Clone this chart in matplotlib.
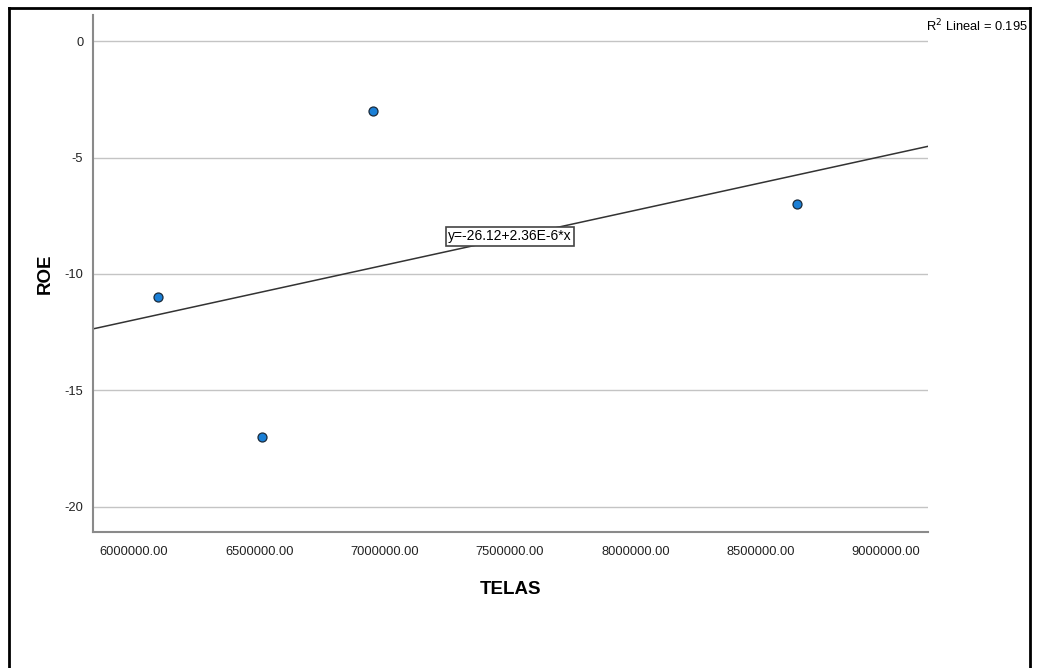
import numpy as np
import matplotlib
matplotlib.use("Agg")
import matplotlib.pyplot as plt
from matplotlib.lines import Line2D

plt.rcParams['font.family'] = ['Liberation Sans', 'DejaVu Sans']

# data
telas = [6096000, 6511000, 6954000, 8645000]
roe = [-11, -17, -3, -7]
x_ticks = [6000000, 6500000, 7000000, 7500000, 8000000, 8500000, 9000000]
y_ticks = [0, -5, -10, -15, -20]

fig = plt.figure(figsize=(10.42, 6.68), dpi=100)
ax = fig.add_axes([0.0893, 0.204, 0.8013, 0.7735])

xlim = (5837000, 9167500)
ylim = (-21.07, 1.12)

# linear fit
b, a = np.polyfit(telas, roe, 1)
xs = np.array(xlim)
ax.plot(xs, a + b * xs, color='#333333', lw=1.1, zorder=2)

ax.scatter(telas, roe, s=42, color='#1a7fd6', edgecolors='#1a2a3a', linewidths=0.9, zorder=3)

ax.set_xlim(xlim)
ax.set_ylim(ylim)
ax.set_xticks(x_ticks)
ax.set_xticklabels([f"{v:.2f}" for v in x_ticks])
ax.set_yticks(y_ticks)
ax.set_yticklabels([str(v) for v in y_ticks])
ax.tick_params(length=0, labelsize=9.3, colors='#222222')
ax.tick_params(axis='y', pad=7)
ax.tick_params(axis='x', pad=10)
ax.grid(axis='y', color='#c4c4c4', lw=1)
ax.set_axisbelow(True)

for s in ['top', 'right']:
    ax.spines[s].set_visible(False)
for s in ['left', 'bottom']:
    ax.spines[s].set_color('#8a8a8a')
    ax.spines[s].set_linewidth(1.5)

ax.set_xlabel("TELAS", fontsize=13.5, fontweight='bold', labelpad=17)
ax.set_ylabel("ROE", fontsize=13.5, fontweight='bold', labelpad=8)

ax.text(7500600, -8.37, "y=-26.12+2.36E-6*x", ha='center', va='center', fontsize=10,
        bbox=dict(boxstyle='square,pad=0.18', fc='white', ec='#444444', lw=1.2), zorder=4)

fig.text(0.9865, 0.961, "R$^2$ Lineal = 0.195", ha='right', va='center', fontsize=9.3)

# outer frame (bottom cut off)
for xd, yd in [([0.0086, 0.0086], [0.0, 0.988]),
               ([0.0086, 0.9885], [0.988, 0.988]),
               ([0.9885, 0.9885], [0.988, 0.0])]:
    fig.add_artist(Line2D(xd, yd, color='black', lw=2, transform=fig.transFigure))

fig.savefig("out.png", dpi=100)
